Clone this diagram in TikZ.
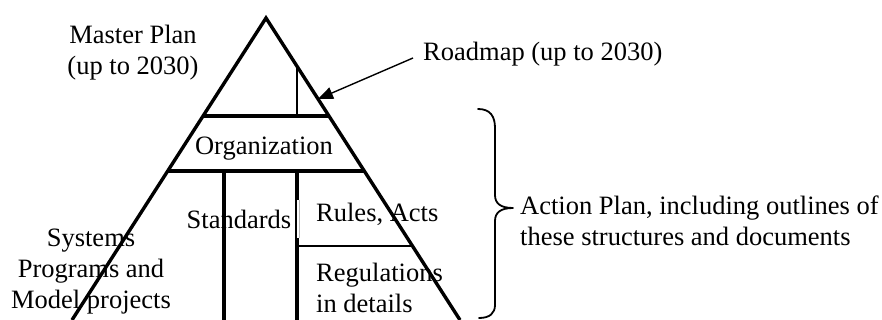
\documentclass[tikz,border=0pt]{standalone}
\usepackage{fontspec}
\setmainfont{Liberation Serif}
\usetikzlibrary{arrows.meta}
\begin{document}
\begin{tikzpicture}[x=1pt,y=-1pt,
  side/.style={line width=3.4pt,line join=miter},
  heavy/.style={line width=4.2pt},
  light/.style={line width=2.4pt},
  lbl/.style={inner sep=0pt,font=\fontsize{26.5}{31}\selectfont},
  pointer/.style={line width=1.4pt,-{Triangle[length=15pt,width=12pt]}},
  bracepath/.style={line width=1.8pt,line cap=round,line join=round}]
\useasboundingbox (0,0) rectangle (882,320);
\begin{scope}
\clip (0,0) rectangle (882,320);
% pyramid outline
\coordinate (apex) at (266,18);
\coordinate (bl) at (72,320);
\coordinate (br) at (460,320);
\draw[side] (bl) -- (apex) -- (br);
% horizontal tiers
\draw[heavy] (203.1,116) -- (328.9,116);
\draw[side] (167.8,171) -- (364.2,171);
% roadmap strip
\draw[light] (297,66.3) -- (297,116);
% columns below the organization tier
\draw[heavy] (224,171) -- (224,320);
\draw[heavy] (297,171) -- (297,320);
% rules / regulations divider
\draw[light] (297,246) -- (412.4,246);
% frame edge of the rules box
\fill[white] (296.9,200) rectangle (300,238);
\draw[gray!55,line width=0.6pt] (299,200) -- (299,238);
\end{scope}
% labels (multi-line labels are anchored at their last baseline)
\node[lbl,anchor=base,align=center] (master) at (133,75) {Master Plan\\(up to 2030)};
\node[lbl,anchor=base west] (roadmap) at (423,61) {Roadmap (up to 2030)};
\node[lbl,anchor=base] (org) at (264,155) {Organization};
\node[lbl,anchor=base] (std) at (239,229) {Standards};
\node[lbl,anchor=base west] (rules) at (316,222) {Rules, Acts};
\node[lbl,anchor=base,align=center] (sys) at (91,308) {Systems\\Programs and\\Model projects};
\node[lbl,anchor=base west,align=left] (reg) at (316,312) {Regulations\\in details};
\node[lbl,anchor=base west,align=left] (action) at (520,245) {Action Plan, including outlines of\\these structures and documents};
% arrow to the roadmap strip
\coordinate (rmtip) at (318,99);
\coordinate (rmstart) at (413,58);
\draw[pointer] (rmstart) -- (rmtip);
% curly brace
\coordinate (btop) at (478,109);
\coordinate (btip) at (513,208);
\coordinate (bbot) at (479,318);
\draw[bracepath] (btop) .. controls (490,109) and (495,116) .. (495,128)
  -- (495,195) .. controls (495,203) and (500,208) .. (btip)
  .. controls (500,208) and (495,213) .. (495,221)
  -- (495,305) .. controls (495,313) and (490,318) .. (bbot);
\end{tikzpicture}
\end{document}
